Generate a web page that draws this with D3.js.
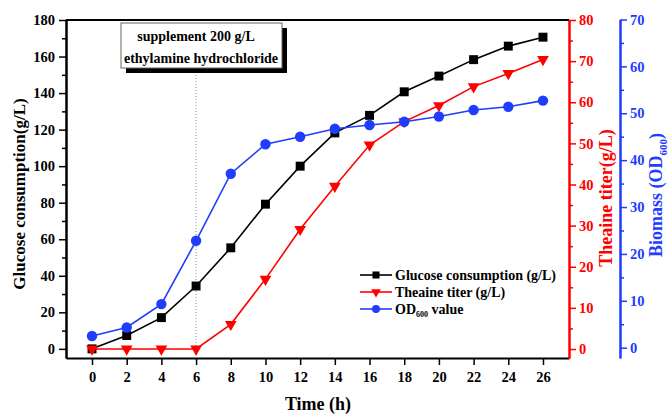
<!DOCTYPE html>
<html>
<head>
<meta charset="utf-8">
<script src="https://cdn.jsdelivr.net/npm/d3@7"></script>
<style>
  body { margin: 0; background: #fff; }
  svg text { font-family: "Liberation Serif", "DejaVu Serif", serif; font-weight: bold; }
</style>
</head>
<body>
<script>
// data
const hours = [0, 2, 4, 6, 8, 10, 12, 14, 16, 18, 20, 22, 24, 26];
const glucose = [0, 7.3, 17.1, 34.4, 55.3, 79.2, 100, 118.2, 127.8, 140.7, 149.3, 158.3, 165.7, 170.6];
const theanine = [0, 0, 0, 0, 6, 17, 29.1, 39.6, 49.6, 55.3, 59.2, 63.8, 67, 70.4];
const od600 = [2.5, 4.3, 9.3, 22.8, 37.1, 43.4, 45, 46.7, 47.5, 48.2, 49.3, 50.7, 51.4, 52.7];

const xTicks = d3.range(0, 27, 2);
const leftTicks = d3.range(0, 181, 20);
const redTicks = d3.range(0, 81, 10);
const blueTicks = d3.range(0, 71, 10);

const RED = "#ff0000", BLUE = "#1f3cff";

const width = 668, height = 414;
const svg = d3.select("body").append("svg").attr("width", width).attr("height", height);

const x = d3.scaleLinear().domain([-1.5, 27.5]).range([66, 569]);
const yL = d3.scaleLinear().domain([-5, 180]).range([358, 20]);
const yR = d3.scaleLinear().domain([-2.19, 80]).range([358, 20]);
const yB = d3.scaleLinear().domain([-2.2, 70]).range([358, 19.5]);

function styleAxis(g, color, size) {
    g.select(".domain").attr("stroke", color).attr("stroke-width", 2);
    g.selectAll(".tick line").attr("stroke", color).attr("stroke-width", 1.5);
    g.selectAll(".tick text").attr("fill", color).style("font-size", size + "px");
}

// top frame line
svg.append("line").attr("x1", 66).attr("x2", 569).attr("y1", 20).attr("y2", 20)
    .attr("stroke", "#000").attr("stroke-width", 2);

// x axis
svg.append("g").attr("transform", "translate(0,358)")
    .call(d3.axisBottom(x).tickValues(xTicks).tickSize(7).tickPadding(7).tickSizeOuter(0))
    .call(g => styleAxis(g, "#000", 14.5));

// left axis
svg.append("g").attr("transform", "translate(66,0)")
    .call(d3.axisLeft(yL).tickValues(d3.range(10, 180, 20)).tickSize(4).tickFormat("").tickSizeOuter(0))
    .call(g => styleAxis(g, "#000", 14.5));
svg.append("g").attr("transform", "translate(66,0)")
    .call(d3.axisLeft(yL).tickValues(leftTicks).tickSize(7).tickPadding(4).tickSizeOuter(0))
    .call(g => styleAxis(g, "#000", 14.5));

// red axis
svg.append("g").attr("transform", "translate(569,0)")
    .call(d3.axisRight(yR).tickValues(d3.range(5, 80, 10)).tickSize(4).tickFormat("").tickSizeOuter(0))
    .call(g => styleAxis(g, RED, 14.5));
svg.append("g").attr("transform", "translate(569,0)")
    .call(d3.axisRight(yR).tickValues(redTicks).tickSize(7).tickPadding(3).tickSizeOuter(0))
    .call(g => styleAxis(g, RED, 14.5));

// blue axis
svg.append("g").attr("transform", "translate(620,0)")
    .call(d3.axisRight(yB).tickValues(d3.range(5, 70, 10)).tickSize(4).tickFormat("").tickSizeOuter(0))
    .call(g => styleAxis(g, BLUE, 14.5));
svg.append("g").attr("transform", "translate(620,0)")
    .call(d3.axisRight(yB).tickValues(blueTicks).tickSize(7).tickPadding(3).tickSizeOuter(0))
    .call(g => styleAxis(g, BLUE, 14.5));

// axis titles
svg.append("text").attr("x", 318).attr("y", 410).attr("text-anchor", "middle")
    .style("font-size", "18px").text("Time (h)");
svg.append("text").attr("transform", "translate(25,194) rotate(-90)").attr("text-anchor", "middle")
    .style("font-size", "17px").text("Glucose consumption(g/L)");
svg.append("text").attr("transform", "translate(612,198) rotate(-90)").attr("text-anchor", "middle")
    .attr("fill", RED).style("font-size", "18px").text("Theaine titer(g/L)");
const bt = svg.append("text").attr("transform", "translate(662,195) rotate(-90)").attr("text-anchor", "middle")
    .attr("fill", BLUE).style("font-size", "18px");
bt.append("tspan").text("Biomass (OD");
bt.append("tspan").attr("dy", 5).style("font-size", "11px").text("600");
bt.append("tspan").attr("dy", -5).text(")");

// supplement marker line
svg.append("line").attr("x1", x(6)).attr("x2", x(6)).attr("y1", 72).attr("y2", 357)
    .attr("stroke", "#888").attr("stroke-width", 1).attr("stroke-dasharray", "1,2");

// annotation box with shadow
svg.append("rect").attr("x", 126).attr("y", 28).attr("width", 161).attr("height", 45).attr("fill", "#000");
svg.append("rect").attr("x", 121).attr("y", 23).attr("width", 161).attr("height", 45)
    .attr("fill", "#fff").attr("stroke", "#666").attr("stroke-width", 1);
svg.append("text").attr("x", 196).attr("y", 41).attr("text-anchor", "middle")
    .style("font-size", "14px").text("supplement 200 g/L");
svg.append("text").attr("x", 201).attr("y", 63).attr("text-anchor", "middle")
    .style("font-size", "14px").text("ethylamine hydrochloride");

// series
const series = [
    { name: "glucose", values: glucose, y: yL, color: "#000", shape: d3.symbolSquare, size: 80 },
    { name: "theanine", values: theanine, y: yR, color: RED, shape: d3.symbolTriangle, size: 60, flip: true },
    { name: "od600", values: od600, y: yB, color: BLUE, shape: d3.symbolCircle, size: 85 }
];

series.forEach(s => {
    const pts = hours.map((h, i) => [x(h), s.y(s.values[i])]);
    svg.append("path").attr("d", d3.line()(pts)).attr("fill", "none")
        .attr("stroke", s.color).attr("stroke-width", 1.6);
    svg.append("g").selectAll("path").data(pts).join("path")
        .attr("transform", d => `translate(${d[0]},${d[1]})${s.flip ? " rotate(180)" : ""}`)
        .attr("d", d3.symbol(s.shape, s.size)).attr("fill", s.color);
});

// legend
const legendItems = [
    { label: "Glucose consumption (g/L)", color: "#000", shape: d3.symbolSquare, size: 50 },
    { label: "Theaine titer (g/L)", color: RED, shape: d3.symbolTriangle, size: 40, flip: true },
    { label: "OD", sub: "600", after: " value", color: BLUE, shape: d3.symbolCircle, size: 50 }
];
const lg = svg.append("g");
legendItems.forEach((d, i) => {
    const yy = 275 + i * 17;
    lg.append("line").attr("x1", 360).attr("x2", 392).attr("y1", yy).attr("y2", yy)
        .attr("stroke", d.color).attr("stroke-width", 1.6);
    lg.append("path").attr("transform", `translate(376,${yy})${d.flip ? " rotate(180)" : ""}`)
        .attr("d", d3.symbol(d.shape, d.size)).attr("fill", d.color);
    const t = lg.append("text").attr("x", 395).attr("y", yy + 4.5).style("font-size", "14px");
    t.append("tspan").text(d.label);
    if (d.sub) {
        t.append("tspan").attr("dy", 3).style("font-size", "8px").text(d.sub);
        t.append("tspan").attr("dy", -3).text(d.after);
    }
});
</script>
</body>
</html>
